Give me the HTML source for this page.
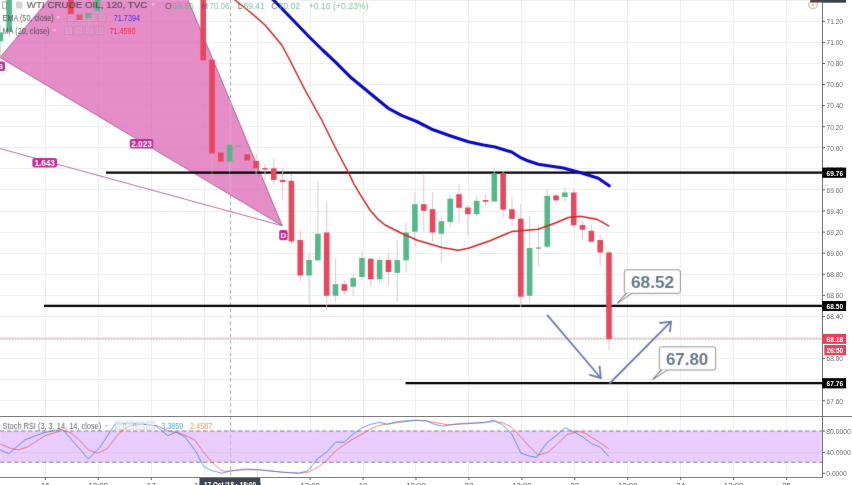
<!DOCTYPE html>
<html lang="en"><head><meta charset="utf-8"><title>WTI Crude Oil chart</title>
<style>
html,body{margin:0;padding:0;background:#fff;}
body{width:852px;height:485px;overflow:hidden;font-family:"Liberation Sans",sans-serif;}
svg{display:block;}
text{font-family:"Liberation Sans",sans-serif;}
</style></head><body>
<svg width="852" height="485" viewBox="0 0 852 485">
<defs><filter id="soft" x="-2%" y="-2%" width="104%" height="104%" color-interpolation-filters="sRGB"><feConvolveMatrix order="3" kernelMatrix="0.00810 0.07380 0.00810 0.07380 0.67240 0.07380 0.00810 0.07380 0.00810" divisor="1" bias="0" edgeMode="duplicate" preserveAlpha="false"/></filter></defs>
<rect width="852" height="485" fill="#ffffff"/>

<g stroke="#f0f0f1" stroke-width="1" fill="none" shape-rendering="crispEdges">
<line x1="45.5" y1="0" x2="45.5" y2="477.5"/>
<line x1="98.5" y1="0" x2="98.5" y2="477.5"/>
<line x1="151.5" y1="0" x2="151.5" y2="477.5"/>
<line x1="204.5" y1="0" x2="204.5" y2="477.5"/>
<line x1="257.5" y1="0" x2="257.5" y2="477.5"/>
<line x1="310.5" y1="0" x2="310.5" y2="477.5"/>
<line x1="363.5" y1="0" x2="363.5" y2="477.5"/>
<line x1="415.5" y1="0" x2="415.5" y2="477.5"/>
<line x1="468.5" y1="0" x2="468.5" y2="477.5"/>
<line x1="521.5" y1="0" x2="521.5" y2="477.5"/>
<line x1="574.5" y1="0" x2="574.5" y2="477.5"/>
<line x1="627.5" y1="0" x2="627.5" y2="477.5"/>
<line x1="680.5" y1="0" x2="680.5" y2="477.5"/>
<line x1="733.5" y1="0" x2="733.5" y2="477.5"/>
<line x1="786.5" y1="0" x2="786.5" y2="477.5"/>
<line x1="0" y1="21.5" x2="822.5" y2="21.5"/>
<line x1="0" y1="42.5" x2="822.5" y2="42.5"/>
<line x1="0" y1="63.5" x2="822.5" y2="63.5"/>
<line x1="0" y1="84.5" x2="822.5" y2="84.5"/>
<line x1="0" y1="105.5" x2="822.5" y2="105.5"/>
<line x1="0" y1="126.5" x2="822.5" y2="126.5"/>
<line x1="0" y1="147.5" x2="822.5" y2="147.5"/>
<line x1="0" y1="168.5" x2="822.5" y2="168.5"/>
<line x1="0" y1="189.5" x2="822.5" y2="189.5"/>
<line x1="0" y1="211.5" x2="822.5" y2="211.5"/>
<line x1="0" y1="232.5" x2="822.5" y2="232.5"/>
<line x1="0" y1="253.5" x2="822.5" y2="253.5"/>
<line x1="0" y1="274.5" x2="822.5" y2="274.5"/>
<line x1="0" y1="295.5" x2="822.5" y2="295.5"/>
<line x1="0" y1="316.5" x2="822.5" y2="316.5"/>
<line x1="0" y1="337.5" x2="822.5" y2="337.5"/>
<line x1="0" y1="358.5" x2="822.5" y2="358.5"/>
<line x1="0" y1="379.5" x2="822.5" y2="379.5"/>
<line x1="0" y1="400.5" x2="822.5" y2="400.5"/>
</g>
<g filter="url(#soft)">
<line x1="230.6" y1="0" x2="230.6" y2="477.5" stroke="#a4a4a4" stroke-width="1" stroke-dasharray="3.5 2.8"/>
<rect x="0" y="431" width="821.8" height="31.3" fill="#e8cdfd"/>
<line x1="0" y1="452.6" x2="822.5" y2="452.6" stroke="#dcc3ee" stroke-width="1"/>
<g stroke="#8d7f96" stroke-width="1.1" stroke-dasharray="4.4 2.6" fill="none"><line x1="0" y1="431" x2="822.5" y2="431"/><line x1="0" y1="462.3" x2="822.5" y2="462.3"/></g>
<line x1="230.6" y1="428.4" x2="230.6" y2="466" stroke="#9a9a9a" stroke-opacity="0.45" stroke-width="1" stroke-dasharray="3.5 2.8"/>
<polygon points="0,57.5 48.4,0 188,0 282.3,225.8" fill="#ffffff" fill-opacity="0.45"/>
<polygon points="0,57.5 48.4,0 188,0 282.3,225.8" fill="#cc2895" fill-opacity="0.53"/>
<g stroke="#a0508a" stroke-width="0.85" fill="none" stroke-opacity="0.95"><polyline points="48.4,0 0,57.5 282.3,225.8 188,0"/><line x1="-5" y1="147.2" x2="282.3" y2="225.8"/></g>
<line x1="230.6" y1="102.2" x2="230.6" y2="194.9" stroke="#e694ca" stroke-width="2.2"/><line x1="230.6" y1="100.8" x2="230.6" y2="195" stroke="#cdb0d6" stroke-opacity="0.8" stroke-width="0.9" stroke-dasharray="3.5 2.8"/>
<g stroke="#000" stroke-width="2.25"><line x1="106" y1="172.7" x2="822.5" y2="172.7"/><line x1="44" y1="305.9" x2="822.5" y2="305.9"/><line x1="405.5" y1="383" x2="822.5" y2="383"/></g>
<line x1="0" y1="338.9" x2="822.5" y2="338.9" stroke="#b88890" stroke-width="1.4" stroke-dasharray="0.8 0.7"/>
<g>
<line x1="0.28" y1="25" x2="0.28" y2="57" stroke="#bcd1c6" stroke-width="0.9" stroke-opacity="1"/>
<rect x="-2.52" y="32.5" width="5.6" height="8.8" fill="#54b988"/>
<line x1="9.10" y1="-5" x2="9.10" y2="37" stroke="#bcd1c6" stroke-width="0.9" stroke-opacity="1"/>
<rect x="6.30" y="-5" width="5.6" height="36.7" fill="#54b988"/>
<line x1="70.86" y1="-5" x2="70.86" y2="16" stroke="#e0bcc3" stroke-width="0.9" stroke-opacity="0.45"/>
<rect x="68.06" y="-5" width="5.6" height="19.0" fill="#e8475c"/>
<line x1="79.68" y1="12" x2="79.68" y2="22" stroke="#e0bcc3" stroke-width="0.9" stroke-opacity="0.45"/>
<rect x="76.88" y="14.7" width="5.6" height="5.3" fill="#e8475c"/>
<line x1="88.50" y1="10" x2="88.50" y2="27" stroke="#bcd1c6" stroke-width="0.9" stroke-opacity="0.45"/>
<rect x="85.70" y="13" width="5.6" height="5.0" fill="#54b988"/>
<line x1="97.32" y1="-5" x2="97.32" y2="13" stroke="#bcd1c6" stroke-width="0.9" stroke-opacity="0.45"/>
<rect x="94.52" y="-5" width="5.6" height="16.0" fill="#54b988"/>
<line x1="203.19" y1="-5" x2="203.19" y2="62" stroke="#e0bcc3" stroke-width="0.9" stroke-opacity="0.45"/>
<rect x="200.39" y="-5" width="5.6" height="65.3" fill="#e8475c"/>
<line x1="212.01" y1="58" x2="212.01" y2="187" stroke="#e0bcc3" stroke-width="0.9" stroke-opacity="0.45"/>
<rect x="209.21" y="59.7" width="5.6" height="93.8" fill="#e8475c"/>
<line x1="220.83" y1="150" x2="220.83" y2="163" stroke="#e0bcc3" stroke-width="0.9" stroke-opacity="0.45"/>
<rect x="218.03" y="152.5" width="5.6" height="9.2" fill="#e8475c"/>
<line x1="229.65" y1="143" x2="229.65" y2="176" stroke="#bcd1c6" stroke-width="0.9" stroke-opacity="0.45"/>
<rect x="226.85" y="144.7" width="5.6" height="17.0" fill="#54b988"/>
<line x1="238.47" y1="144" x2="238.47" y2="147" stroke="#c6c6c6" stroke-width="0.9" stroke-opacity="0.45"/>
<rect x="235.97" y="145.2" width="5.0" height="1.2" fill="#9a9a9a"/>
<line x1="247.30" y1="152" x2="247.30" y2="162" stroke="#e0bcc3" stroke-width="0.9" stroke-opacity="1"/>
<rect x="244.50" y="154.2" width="5.6" height="6.3" fill="#e8475c"/>
<line x1="256.12" y1="154" x2="256.12" y2="175" stroke="#e0bcc3" stroke-width="0.9" stroke-opacity="1"/>
<rect x="253.32" y="160.8" width="5.6" height="7.5" fill="#e8475c"/>
<line x1="264.94" y1="164" x2="264.94" y2="181.7" stroke="#e0bcc3" stroke-width="0.9" stroke-opacity="1"/>
<rect x="262.14" y="168.1" width="5.6" height="1.5" fill="#e8475c"/>
<line x1="273.76" y1="158.3" x2="273.76" y2="185" stroke="#e0bcc3" stroke-width="0.9" stroke-opacity="1"/>
<rect x="270.96" y="168.3" width="5.6" height="11.7" fill="#e8475c"/>
<line x1="282.58" y1="168" x2="282.58" y2="200" stroke="#e0bcc3" stroke-width="0.9" stroke-opacity="1"/>
<rect x="279.78" y="180" width="5.6" height="2.0" fill="#e8475c"/>
<line x1="291.41" y1="174" x2="291.41" y2="244" stroke="#e0bcc3" stroke-width="0.9" stroke-opacity="1"/>
<rect x="288.61" y="180.8" width="5.6" height="60.7" fill="#e8475c"/>
<line x1="300.23" y1="230.8" x2="300.23" y2="281.7" stroke="#e0bcc3" stroke-width="0.9" stroke-opacity="1"/>
<rect x="297.43" y="240" width="5.6" height="35.5" fill="#e8475c"/>
<line x1="309.05" y1="253" x2="309.05" y2="303.3" stroke="#bcd1c6" stroke-width="0.9" stroke-opacity="1"/>
<rect x="306.25" y="260" width="5.6" height="15.5" fill="#54b988"/>
<line x1="317.87" y1="181.7" x2="317.87" y2="262" stroke="#bcd1c6" stroke-width="0.9" stroke-opacity="1"/>
<rect x="315.07" y="233.8" width="5.6" height="26.5" fill="#54b988"/>
<line x1="326.69" y1="201.7" x2="326.69" y2="310" stroke="#e0bcc3" stroke-width="0.9" stroke-opacity="1"/>
<rect x="323.89" y="232.5" width="5.6" height="63.3" fill="#e8475c"/>
<line x1="335.52" y1="258.3" x2="335.52" y2="302.5" stroke="#bcd1c6" stroke-width="0.9" stroke-opacity="1"/>
<rect x="332.72" y="284.2" width="5.6" height="11.6" fill="#54b988"/>
<line x1="344.34" y1="280" x2="344.34" y2="295" stroke="#e0bcc3" stroke-width="0.9" stroke-opacity="1"/>
<rect x="341.54" y="284.2" width="5.6" height="6.6" fill="#e8475c"/>
<line x1="353.16" y1="274.2" x2="353.16" y2="295.8" stroke="#bcd1c6" stroke-width="0.9" stroke-opacity="1"/>
<rect x="350.36" y="278" width="5.6" height="8.7" fill="#54b988"/>
<line x1="361.98" y1="250.8" x2="361.98" y2="280.8" stroke="#bcd1c6" stroke-width="0.9" stroke-opacity="1"/>
<rect x="359.18" y="258" width="5.6" height="19.0" fill="#54b988"/>
<line x1="370.80" y1="257" x2="370.80" y2="285.8" stroke="#e0bcc3" stroke-width="0.9" stroke-opacity="1"/>
<rect x="368.00" y="258.8" width="5.6" height="20.4" fill="#e8475c"/>
<line x1="379.63" y1="258" x2="379.63" y2="283.7" stroke="#bcd1c6" stroke-width="0.9" stroke-opacity="1"/>
<rect x="376.83" y="260" width="5.6" height="19.2" fill="#54b988"/>
<line x1="388.45" y1="253.3" x2="388.45" y2="285.8" stroke="#e0bcc3" stroke-width="0.9" stroke-opacity="1"/>
<rect x="385.65" y="260" width="5.6" height="12.0" fill="#e8475c"/>
<line x1="397.27" y1="240" x2="397.27" y2="301.7" stroke="#bcd1c6" stroke-width="0.9" stroke-opacity="1"/>
<rect x="394.47" y="260" width="5.6" height="12.8" fill="#54b988"/>
<line x1="406.09" y1="223.3" x2="406.09" y2="272.5" stroke="#bcd1c6" stroke-width="0.9" stroke-opacity="1"/>
<rect x="403.29" y="232.5" width="5.6" height="27.8" fill="#54b988"/>
<line x1="414.91" y1="192.5" x2="414.91" y2="246.7" stroke="#bcd1c6" stroke-width="0.9" stroke-opacity="1"/>
<rect x="412.11" y="204.2" width="5.6" height="27.5" fill="#54b988"/>
<line x1="423.74" y1="175" x2="423.74" y2="231.7" stroke="#e0bcc3" stroke-width="0.9" stroke-opacity="1"/>
<rect x="420.94" y="204.2" width="5.6" height="6.6" fill="#e8475c"/>
<line x1="432.56" y1="192.5" x2="432.56" y2="242.5" stroke="#e0bcc3" stroke-width="0.9" stroke-opacity="1"/>
<rect x="429.76" y="209.2" width="5.6" height="23.3" fill="#e8475c"/>
<line x1="441.38" y1="216.7" x2="441.38" y2="262.5" stroke="#bcd1c6" stroke-width="0.9" stroke-opacity="1"/>
<rect x="438.58" y="221.2" width="5.6" height="12.5" fill="#54b988"/>
<line x1="450.20" y1="194.7" x2="450.20" y2="227.5" stroke="#bcd1c6" stroke-width="0.9" stroke-opacity="1"/>
<rect x="447.40" y="198.7" width="5.6" height="23.3" fill="#54b988"/>
<line x1="459.02" y1="184.2" x2="459.02" y2="223.3" stroke="#e0bcc3" stroke-width="0.9" stroke-opacity="1"/>
<rect x="456.22" y="194.2" width="5.6" height="13.6" fill="#e8475c"/>
<line x1="467.85" y1="205" x2="467.85" y2="235" stroke="#e0bcc3" stroke-width="0.9" stroke-opacity="1"/>
<rect x="465.05" y="207.5" width="5.6" height="6.7" fill="#e8475c"/>
<line x1="476.67" y1="195.8" x2="476.67" y2="216" stroke="#bcd1c6" stroke-width="0.9" stroke-opacity="1"/>
<rect x="473.87" y="200.8" width="5.6" height="13.4" fill="#54b988"/>
<line x1="485.49" y1="194.2" x2="485.49" y2="205.3" stroke="#e0bcc3" stroke-width="0.9" stroke-opacity="1"/>
<rect x="482.69" y="200" width="5.6" height="1.7" fill="#e8475c"/>
<line x1="494.31" y1="167.5" x2="494.31" y2="203" stroke="#bcd1c6" stroke-width="0.9" stroke-opacity="1"/>
<rect x="491.51" y="173.3" width="5.6" height="28.2" fill="#54b988"/>
<line x1="503.13" y1="171" x2="503.13" y2="217.5" stroke="#e0bcc3" stroke-width="0.9" stroke-opacity="1"/>
<rect x="500.33" y="173.3" width="5.6" height="36.4" fill="#e8475c"/>
<line x1="511.96" y1="196.7" x2="511.96" y2="226.7" stroke="#e0bcc3" stroke-width="0.9" stroke-opacity="1"/>
<rect x="509.16" y="209.2" width="5.6" height="9.7" fill="#e8475c"/>
<line x1="520.78" y1="204.2" x2="520.78" y2="307" stroke="#e0bcc3" stroke-width="0.9" stroke-opacity="1"/>
<rect x="517.98" y="218.7" width="5.6" height="78.0" fill="#e8475c"/>
<line x1="529.60" y1="215.8" x2="529.60" y2="302.5" stroke="#bcd1c6" stroke-width="0.9" stroke-opacity="1"/>
<rect x="526.80" y="248" width="5.6" height="47.8" fill="#54b988"/>
<line x1="538.42" y1="224.2" x2="538.42" y2="265.8" stroke="#c6c6c6" stroke-width="0.9" stroke-opacity="1"/>
<rect x="535.92" y="247.4" width="5.0" height="1.4" fill="#9a9a9a"/>
<line x1="547.24" y1="189.2" x2="547.24" y2="248" stroke="#bcd1c6" stroke-width="0.9" stroke-opacity="1"/>
<rect x="544.44" y="195.8" width="5.6" height="50.9" fill="#54b988"/>
<line x1="556.07" y1="193.3" x2="556.07" y2="203.7" stroke="#e0bcc3" stroke-width="0.9" stroke-opacity="1"/>
<rect x="553.27" y="195.5" width="5.6" height="4.8" fill="#e8475c"/>
<line x1="564.89" y1="187.5" x2="564.89" y2="202.5" stroke="#bcd1c6" stroke-width="0.9" stroke-opacity="1"/>
<rect x="562.09" y="192.5" width="5.6" height="4.5" fill="#54b988"/>
<line x1="573.71" y1="188.3" x2="573.71" y2="227.5" stroke="#e0bcc3" stroke-width="0.9" stroke-opacity="1"/>
<rect x="570.91" y="192.5" width="5.6" height="32.8" fill="#e8475c"/>
<line x1="582.53" y1="220.8" x2="582.53" y2="240" stroke="#e0bcc3" stroke-width="0.9" stroke-opacity="1"/>
<rect x="579.73" y="225" width="5.6" height="4.7" fill="#e8475c"/>
<line x1="591.35" y1="224.2" x2="591.35" y2="243" stroke="#e0bcc3" stroke-width="0.9" stroke-opacity="1"/>
<rect x="588.55" y="230.8" width="5.6" height="10.9" fill="#e8475c"/>
<line x1="600.18" y1="234.2" x2="600.18" y2="265.8" stroke="#e0bcc3" stroke-width="0.9" stroke-opacity="1"/>
<rect x="597.38" y="240" width="5.6" height="12.5" fill="#e8475c"/>
<line x1="609.00" y1="251" x2="609.00" y2="350.8" stroke="#e0bcc3" stroke-width="0.9" stroke-opacity="1"/>
<rect x="606.20" y="252.5" width="5.6" height="86.7" fill="#e8475c"/>
</g>
<polyline points="228.0,-6.0 235.0,0.0 250.0,12.0 265.0,25.0 281.7,45.0 289.8,60.0 305.0,90.0 321.7,120.0 335.0,147.0 344.4,165.0 348.8,173.1 353.8,183.8 361.2,196.2 370.0,210.0 377.5,218.8 385.0,225.0 393.0,229.0 400.0,232.5 416.7,240.0 441.7,247.5 458.3,250.3 468.3,248.3 490.0,240.8 511.7,231.6 538.3,229.3 556.7,222.5 568.3,217.5 580.0,216.2 596.7,219.2 608.7,225.8" fill="none" stroke="#d12622" stroke-width="1.5" stroke-linejoin="round" stroke-linecap="round"/>
<polyline points="265.0,-8.0 273.5,0.0 290.0,17.0 309.8,37.5 322.0,49.5 335.0,61.7 350.0,76.7 370.0,93.3 388.3,108.3 402.0,115.6 416.7,121.5 431.7,129.2 450.0,135.8 468.3,141.7 483.3,145.0 495.0,147.0 511.7,152.0 520.0,157.3 527.0,160.5 538.3,164.2 563.3,168.0 581.7,173.0 598.3,178.3 609.2,185.8" fill="none" stroke="#0a0ac4" stroke-width="3.1" stroke-linejoin="round" stroke-linecap="round"/>
<g stroke="#6c7eb5" stroke-width="1.85" fill="none" stroke-linecap="round" stroke-linejoin="round">
<line x1="547.5" y1="315.3" x2="600.8" y2="378"/><polyline points="590,374.8 600.8,378 599.6,366.7"/>
<line x1="610" y1="383" x2="671" y2="321.7"/><polyline points="660,323 671,321.7 670,331.5"/>
</g>
<path d="M626.5,293.0 L617.5,303 L632,293.0 Z" fill="#9c9c9c" stroke="#7c7c7c" stroke-width="1.1" stroke-linejoin="round"/>
<rect x="624.3" y="269.8" width="56.1" height="23.5" rx="2.2" ry="2.2" fill="#ffffff" stroke="#939393" stroke-width="1"/>
<path d="M627.7,293.3 L620.7,300.4 L630.8,293.3 Z" fill="#ffffff" stroke="#ffffff" stroke-width="0.4"/>
<text x="630.9" y="287.5" font-size="16.6" font-weight="bold" fill="#687a89" textLength="43.3" lengthAdjust="spacingAndGlyphs">68.52</text>
<path d="M661.5,369.7 L653,379.2 L667.5,369.7 Z" fill="#9c9c9c" stroke="#7c7c7c" stroke-width="1.1" stroke-linejoin="round"/>
<rect x="659.3" y="346.8" width="56.4" height="23.2" rx="2.2" ry="2.2" fill="#ffffff" stroke="#939393" stroke-width="1"/>
<path d="M662.7,370 L656.2,376.59999999999997 L666.3,370 Z" fill="#ffffff" stroke="#ffffff" stroke-width="0.4"/>
<text x="665.9" y="364.6" font-size="16.6" font-weight="bold" fill="#687a89" textLength="42.4" lengthAdjust="spacingAndGlyphs">67.80</text>
<rect x="129.8" y="139" width="23.4" height="9.4" rx="2" ry="2" fill="#c12c93"/>
<text x="141.5" y="146.7" font-size="8.2" font-weight="bold" fill="#ffffff" text-anchor="middle">2.023</text>
<rect x="32.4" y="158" width="24.6" height="9.6" rx="2" ry="2" fill="#c12c93"/>
<text x="44.7" y="165.8" font-size="8.2" font-weight="bold" fill="#ffffff" text-anchor="middle">1.643</text>
<rect x="-4.5" y="61.5" width="9.5" height="9.5" rx="2" ry="2" fill="#c12c93"/>
<text x="0.2" y="69.1" font-size="8" font-weight="bold" fill="#ffffff" text-anchor="middle">B</text>
<rect x="279.2" y="230" width="8.4" height="10.2" rx="2" ry="2" fill="#c12c93"/>
<text x="283.4" y="238.0" font-size="8" font-weight="bold" fill="#ffffff" text-anchor="middle">D</text>
<polyline points="-2.0,443.0 0.0,444.0 11.7,448.7 18.3,449.8 26.7,447.3 45.0,435.7 62.5,430.3 70.0,432.3 78.3,439.0 88.3,449.8 97.5,453.2 106.7,449.0 120.0,432.3 130.0,425.7 142.0,424.0 157.0,425.7 167.0,430.7 180.3,433.2 194.5,439.8 203.7,452.3 212.0,462.3 220.3,469.8 225.3,471.5 242.0,469.8 258.7,469.8 283.7,472.3 300.7,473.2 309.0,472.0 319.0,466.5 325.7,461.5 335.7,450.7 344.0,444.8 353.2,439.0 362.3,434.0 370.7,428.7 379.8,425.3 387.3,424.0 397.3,422.7 415.7,420.3 426.0,420.9 447.7,424.8 467.7,423.7 494.3,421.5 502.7,422.7 511.8,427.3 521.0,437.3 529.3,446.5 538.5,455.3 547.7,452.3 556.7,444.8 566.7,434.8 578.3,431.2 585.0,433.2 598.3,441.5 608.8,448.7" fill="none" stroke="#ec4c3c" stroke-width="0.75" stroke-opacity="0.9" stroke-linejoin="round"/>
<polyline points="-2.0,449.0 0.0,449.8 8.7,453.7 25.0,439.8 45.0,432.3 62.5,429.3 88.3,459.0 100.0,447.3 115.0,424.0 130.0,423.7 142.0,424.0 155.3,425.7 167.8,435.7 176.2,432.0 185.3,437.3 195.3,450.7 203.7,466.5 212.0,470.7 222.0,473.2 230.3,471.0 245.3,469.0 258.7,469.8 283.7,472.3 299.0,473.2 308.2,470.7 317.3,459.0 327.3,451.5 335.7,442.0 344.0,442.3 353.2,434.0 362.3,427.8 370.7,424.3 379.8,422.3 387.3,424.3 397.3,421.5 415.7,420.3 426.0,420.9 434.3,424.3 442.7,426.2 451.0,424.8 459.3,423.7 484.3,422.7 493.5,420.2 502.7,424.8 511.8,434.0 521.0,453.2 529.3,456.0 536.8,457.3 546.8,442.7 556.0,435.7 565.0,427.7 574.2,432.0 583.3,437.3 591.7,443.7 600.0,447.0 608.8,456.5" fill="none" stroke="#2272dc" stroke-width="0.75" stroke-opacity="0.9" stroke-linejoin="round"/>
<g opacity="0.82">
<g fill="#37373a">
<rect x="2.6" y="2" width="4" height="6.2" fill="none" stroke="#777" stroke-width="0.8"/>
<rect x="15.8" y="1.6" width="6.6" height="7" fill="#c9cccf"/>
<text x="26.8" y="8.3" font-size="9.6" textLength="120.6" lengthAdjust="spacingAndGlyphs" stroke="#37373a" stroke-width="0.12">WTI CRUDE OIL, 120, TVC</text>
<text x="2.6" y="20.7" font-size="8.2" textLength="51.2" lengthAdjust="spacingAndGlyphs">EMA (50, close)</text>
<text x="2.6" y="33.7" font-size="8.2" textLength="46.8" lengthAdjust="spacingAndGlyphs">MA (20, close)</text>
</g>
<text x="113.8" y="20.7" font-size="8.6" fill="#1a1af0" textLength="26.2" lengthAdjust="spacingAndGlyphs">71.7394</text>
<text x="109.4" y="33.8" font-size="8.6" fill="#f01828" textLength="26.2" lengthAdjust="spacingAndGlyphs">71.4590</text>
<g font-size="8.6">
<text x="165.0" y="8.7" fill="#4a4a4c">O</text>
<text x="172.2" y="8.7" fill="#5bb58a" textLength="21.6" lengthAdjust="spacingAndGlyphs">69.86</text>
<text x="201.8" y="8.7" fill="#4a4a4c">H</text>
<text x="209.6" y="8.7" fill="#5bb58a" textLength="19.8" lengthAdjust="spacingAndGlyphs">70.06</text>
<text x="237.8" y="8.7" fill="#4a4a4c">L</text>
<text x="243.4" y="8.7" fill="#5bb58a" textLength="21.4" lengthAdjust="spacingAndGlyphs">69.41</text>
<text x="271.2" y="8.7" fill="#4a4a4c">C</text>
<text x="278.4" y="8.7" fill="#5bb58a" textLength="21.8" lengthAdjust="spacingAndGlyphs">70.02</text>
<text x="308.8" y="8.7" fill="#5bb58a" textLength="59.6" lengthAdjust="spacingAndGlyphs">+0.16 (+0.23%)</text>
</g>
<g fill="#ffffff" fill-opacity="0.12" stroke="#9a7a9c" stroke-opacity="0.5" stroke-width="0.7">
<rect x="67.6" y="14.2" width="7.6" height="7.2"/>
<rect x="64.4" y="27" width="7.9" height="7.4"/>
<rect x="77.8" y="14.2" width="7.6" height="7.2"/>
<rect x="74.9" y="27" width="7.9" height="7.4"/>
<rect x="88.0" y="14.2" width="7.6" height="7.2"/>
<rect x="85.4" y="27" width="7.9" height="7.4"/>
<rect x="98.2" y="14.2" width="7.6" height="7.2"/>
<rect x="95.9" y="27" width="7.9" height="7.4"/>
</g>
<g fill="none" stroke="#8a6a8e" stroke-opacity="0.3" stroke-width="0.8">
<rect x="69.9" y="16.4" width="3" height="2.8"/>
<rect x="66.8" y="29.3" width="3.1" height="2.8"/>
<rect x="80.1" y="16.4" width="3" height="2.8"/>
<rect x="77.3" y="29.3" width="3.1" height="2.8"/>
<rect x="90.3" y="16.4" width="3" height="2.8"/>
<rect x="87.8" y="29.3" width="3.1" height="2.8"/>
<rect x="100.5" y="16.4" width="3" height="2.8"/>
<rect x="98.3" y="29.3" width="3.1" height="2.8"/>
</g>
<g fill="#ffffff" fill-opacity="0.7"><path d="M56.3,16.6 h4 l-2,2.2 z"/><path d="M52.6,29.4 h4 l-2,2.2 z"/><path d="M151,3.6 h4 l-2,2.2 z"/></g>
<path d="M104.6,424.8 h4 l-2,2.2 z" fill="#c8c8c8"/>
<text x="2.6" y="428.7" font-size="8.6" fill="#3c3c3e" textLength="98.6" lengthAdjust="spacingAndGlyphs">Stoch RSI (3, 3, 14, 14, close)</text>
<g fill="#e3edf5" fill-opacity="0.8" stroke="#9dbbd6" stroke-width="0.6" stroke-opacity="0.8">
<rect x="115.4" y="421.8" width="8" height="7.6"/>
<rect x="125.7" y="421.8" width="8" height="7.6"/>
<rect x="136.0" y="421.8" width="8" height="7.6"/>
<rect x="146.3" y="421.8" width="8" height="7.6"/>
</g>
<text x="161.2" y="428.7" font-size="8.6" fill="#2b93dd" textLength="22.2" lengthAdjust="spacingAndGlyphs">3.3859</text>
<text x="190" y="428.7" font-size="8.6" fill="#e6842e" textLength="22.3" lengthAdjust="spacingAndGlyphs">2.4587</text>
</g>
</g>
<rect x="822.5" y="0" width="29.5" height="485" fill="#ffffff"/>
<rect x="0" y="477.5" width="852" height="7.5" fill="#ffffff"/>
<line x1="822.5" y1="0" x2="822.5" y2="478.0" stroke="#4c4f56" stroke-width="0.8"/>
<line x1="0" y1="416.5" x2="852" y2="416.5" stroke="#5c5c5c" stroke-width="0.8"/>
<line x1="0" y1="477.5" x2="822.5" y2="477.5" stroke="#5c5c5c" stroke-width="0.8"/>
<g font-size="7.8" fill="#6e6e6e">
<line x1="822.5" y1="21.3" x2="825.0" y2="21.3" stroke="#5f636b" stroke-width="1"/>
<text x="826.6" y="24.1" textLength="16.4" lengthAdjust="spacingAndGlyphs">71.20</text>
<line x1="822.5" y1="42.4" x2="825.0" y2="42.4" stroke="#5f636b" stroke-width="1"/>
<text x="826.6" y="45.2" textLength="16.4" lengthAdjust="spacingAndGlyphs">71.00</text>
<line x1="822.5" y1="63.5" x2="825.0" y2="63.5" stroke="#5f636b" stroke-width="1"/>
<text x="826.6" y="66.3" textLength="16.4" lengthAdjust="spacingAndGlyphs">70.80</text>
<line x1="822.5" y1="84.5" x2="825.0" y2="84.5" stroke="#5f636b" stroke-width="1"/>
<text x="826.6" y="87.3" textLength="16.4" lengthAdjust="spacingAndGlyphs">70.60</text>
<line x1="822.5" y1="105.6" x2="825.0" y2="105.6" stroke="#5f636b" stroke-width="1"/>
<text x="826.6" y="108.4" textLength="16.4" lengthAdjust="spacingAndGlyphs">70.40</text>
<line x1="822.5" y1="126.7" x2="825.0" y2="126.7" stroke="#5f636b" stroke-width="1"/>
<text x="826.6" y="129.5" textLength="16.4" lengthAdjust="spacingAndGlyphs">70.20</text>
<line x1="822.5" y1="147.8" x2="825.0" y2="147.8" stroke="#5f636b" stroke-width="1"/>
<text x="826.6" y="150.6" textLength="16.4" lengthAdjust="spacingAndGlyphs">70.00</text>
<line x1="822.5" y1="168.9" x2="825.0" y2="168.9" stroke="#5f636b" stroke-width="1"/>
<text x="826.6" y="171.7" textLength="16.4" lengthAdjust="spacingAndGlyphs">69.80</text>
<line x1="822.5" y1="189.9" x2="825.0" y2="189.9" stroke="#5f636b" stroke-width="1"/>
<text x="826.6" y="192.7" textLength="16.4" lengthAdjust="spacingAndGlyphs">69.60</text>
<line x1="822.5" y1="211.0" x2="825.0" y2="211.0" stroke="#5f636b" stroke-width="1"/>
<text x="826.6" y="213.8" textLength="16.4" lengthAdjust="spacingAndGlyphs">69.40</text>
<line x1="822.5" y1="232.1" x2="825.0" y2="232.1" stroke="#5f636b" stroke-width="1"/>
<text x="826.6" y="234.9" textLength="16.4" lengthAdjust="spacingAndGlyphs">69.20</text>
<line x1="822.5" y1="253.2" x2="825.0" y2="253.2" stroke="#5f636b" stroke-width="1"/>
<text x="826.6" y="256.0" textLength="16.4" lengthAdjust="spacingAndGlyphs">69.00</text>
<line x1="822.5" y1="274.3" x2="825.0" y2="274.3" stroke="#5f636b" stroke-width="1"/>
<text x="826.6" y="277.1" textLength="16.4" lengthAdjust="spacingAndGlyphs">68.80</text>
<line x1="822.5" y1="295.3" x2="825.0" y2="295.3" stroke="#5f636b" stroke-width="1"/>
<text x="826.6" y="298.1" textLength="16.4" lengthAdjust="spacingAndGlyphs">68.60</text>
<line x1="822.5" y1="316.4" x2="825.0" y2="316.4" stroke="#5f636b" stroke-width="1"/>
<text x="826.6" y="319.2" textLength="16.4" lengthAdjust="spacingAndGlyphs">68.40</text>
<line x1="822.5" y1="337.5" x2="825.0" y2="337.5" stroke="#5f636b" stroke-width="1"/>
<text x="826.6" y="340.3" textLength="16.4" lengthAdjust="spacingAndGlyphs">68.20</text>
<line x1="822.5" y1="358.6" x2="825.0" y2="358.6" stroke="#5f636b" stroke-width="1"/>
<text x="826.6" y="361.4" textLength="16.4" lengthAdjust="spacingAndGlyphs">68.00</text>
<line x1="822.5" y1="379.7" x2="825.0" y2="379.7" stroke="#5f636b" stroke-width="1"/>
<text x="826.6" y="382.5" textLength="16.4" lengthAdjust="spacingAndGlyphs">67.80</text>
<line x1="822.5" y1="400.7" x2="825.0" y2="400.7" stroke="#5f636b" stroke-width="1"/>
<text x="826.6" y="403.5" textLength="16.4" lengthAdjust="spacingAndGlyphs">67.60</text>
<line x1="822.5" y1="431.0" x2="825.0" y2="431.0" stroke="#5f636b" stroke-width="1"/>
<text x="826.3" y="433.8" textLength="24.6" lengthAdjust="spacingAndGlyphs">80.0000</text>
<line x1="822.5" y1="452.4" x2="825.0" y2="452.4" stroke="#5f636b" stroke-width="1"/>
<text x="826.3" y="455.2" textLength="24.6" lengthAdjust="spacingAndGlyphs">40.0000</text>
<line x1="822.5" y1="473.3" x2="825.0" y2="473.3" stroke="#5f636b" stroke-width="1"/>
<text x="826.3" y="476.1" textLength="20.5" lengthAdjust="spacingAndGlyphs">0.0000</text>
</g>
<rect x="822.2" y="167.6" width="23.9" height="10.2" fill="#000000"/>
<text x="826.6" y="175.5" font-size="7.8" font-weight="bold" fill="#ffffff" textLength="16.6" lengthAdjust="spacingAndGlyphs">69.76</text>
<rect x="822.2" y="301" width="23.9" height="10.0" fill="#000000"/>
<text x="826.6" y="308.8" font-size="7.8" font-weight="bold" fill="#ffffff" textLength="16.6" lengthAdjust="spacingAndGlyphs">68.50</text>
<rect x="822.2" y="378.2" width="23.9" height="10.2" fill="#000000"/>
<text x="826.6" y="386.1" font-size="7.8" font-weight="bold" fill="#ffffff" textLength="16.6" lengthAdjust="spacingAndGlyphs">67.76</text>
<rect x="822.2" y="333.9" width="23.9" height="10.0" fill="#e3465c"/>
<text x="826.6" y="341.7" font-size="7.8" font-weight="bold" fill="#ffffff" textLength="16.6" lengthAdjust="spacingAndGlyphs">68.18</text>
<rect x="824.3" y="345" width="21.8" height="10.3" fill="#e3465c"/>
<text x="826.6" y="352.9" font-size="7.8" font-weight="bold" fill="#ffffff" textLength="16.6" lengthAdjust="spacingAndGlyphs">26:50</text>
<line x1="300" y1="0.4" x2="822" y2="0.4" stroke="#ececec" stroke-width="0.9"/>
<circle cx="813" cy="4.6" r="4.4" fill="#fdf4ec" stroke="#d3a982" stroke-width="0.9"/>
<path d="M813,3.6 V5.6" stroke="#8a6a58" stroke-width="0.8" fill="none"/>
<rect x="810.2" y="0" width="12.4" height="2.5" fill="#54404a"/>
<rect x="822" y="0" width="24" height="2.7" fill="#3b4254"/>
<g font-size="7.8" fill="#555555" text-anchor="middle">
<line x1="45.3" y1="477.5" x2="45.3" y2="480.0" stroke="#5f636b" stroke-width="1"/>
<text x="45.3" y="488.4">16</text>
<line x1="98.2" y1="477.5" x2="98.2" y2="480.0" stroke="#5f636b" stroke-width="1"/>
<text x="98.2" y="488.4">12:00</text>
<line x1="151.2" y1="477.5" x2="151.2" y2="480.0" stroke="#5f636b" stroke-width="1"/>
<text x="151.2" y="488.4">17</text>
<line x1="204.2" y1="477.5" x2="204.2" y2="480.0" stroke="#5f636b" stroke-width="1"/>
<text x="204.2" y="488.4">12:00</text>
<line x1="257.1" y1="477.5" x2="257.1" y2="480.0" stroke="#5f636b" stroke-width="1"/>
<text x="257.1" y="488.4">18</text>
<line x1="310.1" y1="477.5" x2="310.1" y2="480.0" stroke="#5f636b" stroke-width="1"/>
<text x="310.1" y="488.4">12:00</text>
<line x1="363.0" y1="477.5" x2="363.0" y2="480.0" stroke="#5f636b" stroke-width="1"/>
<text x="363.0" y="488.4">19</text>
<line x1="416.0" y1="477.5" x2="416.0" y2="480.0" stroke="#5f636b" stroke-width="1"/>
<text x="416.0" y="488.4">12:00</text>
<line x1="468.9" y1="477.5" x2="468.9" y2="480.0" stroke="#5f636b" stroke-width="1"/>
<text x="468.9" y="488.4">22</text>
<line x1="521.9" y1="477.5" x2="521.9" y2="480.0" stroke="#5f636b" stroke-width="1"/>
<text x="521.9" y="488.4">12:00</text>
<line x1="574.8" y1="477.5" x2="574.8" y2="480.0" stroke="#5f636b" stroke-width="1"/>
<text x="574.8" y="488.4">23</text>
<line x1="627.8" y1="477.5" x2="627.8" y2="480.0" stroke="#5f636b" stroke-width="1"/>
<text x="627.8" y="488.4">12:00</text>
<line x1="680.7" y1="477.5" x2="680.7" y2="480.0" stroke="#5f636b" stroke-width="1"/>
<text x="680.7" y="488.4">24</text>
<line x1="733.6" y1="477.5" x2="733.6" y2="480.0" stroke="#5f636b" stroke-width="1"/>
<text x="733.6" y="488.4">12:00</text>
<line x1="786.6" y1="477.5" x2="786.6" y2="480.0" stroke="#5f636b" stroke-width="1"/>
<text x="786.6" y="488.4">25</text>
</g>
<rect x="199.5" y="478.0" width="60.8" height="10" fill="#3f4654"/>
<text x="230" y="487.8" font-size="8.2" font-weight="bold" fill="#ffffff" text-anchor="middle" textLength="52" lengthAdjust="spacingAndGlyphs">17 Oct '18 · 18:00</text>
</svg>
</body></html>
